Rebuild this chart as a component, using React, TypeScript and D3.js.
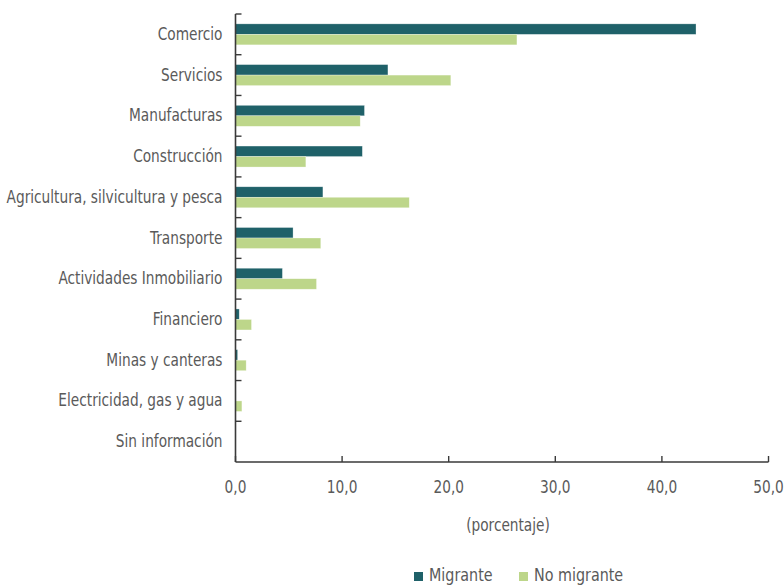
import React from "react";
import * as d3 from "d3";

const categories = [
  "Comercio",
  "Servicios",
  "Manufacturas",
  "Construcción",
  "Agricultura, silvicultura y pesca",
  "Transporte",
  "Actividades Inmobiliario",
  "Financiero",
  "Minas y canteras",
  "Electricidad, gas y agua",
  "Sin información",
];
const migrante = [43.2, 14.3, 12.1, 11.9, 8.2, 5.4, 4.4, 0.35, 0.2, 0.05, 0];
const noMigrante = [26.4, 20.2, 11.7, 6.6, 16.3, 8.0, 7.6, 1.5, 1.0, 0.6, 0];
const seriesNames = ["Migrante", "No migrante"];
const seriesColors = ["#1f6169", "#bdd68a"];
const xTicks = [0, 10, 20, 30, 40, 50];
const axisTitle = "(porcentaje)";

const W = 784;
const H = 587;
const FONT = "'DejaVu Sans Condensed', 'DejaVu Sans', sans-serif";
const TEXT = "#5a5a5a";
const AXIS = "#3a3a3a";
const SX = 0.87; // horizontal squeeze for a narrow typeface look

type LabelProps = {
  x: number;
  y: number;
  anchor: "start" | "middle" | "end";
  size?: number;
  sx?: number;
  children: React.ReactNode;
};

function Label({ x, y, anchor, size = 17.5, sx = SX, children }: LabelProps) {
  return (
    <text
      transform={`translate(${x},${y}) scale(${sx},1)`}
      textAnchor={anchor}
      fontSize={size}
      fill={TEXT}
    >
      {children}
    </text>
  );
}

export default function App() {
  const left = 235.5;
  const right = 768.5;
  const top = 14;
  const bottom = 462;

  const x = d3.scaleLinear().domain([0, 50]).range([left, right]);
  const y = d3.scaleBand<string>().domain(categories).range([top, bottom]).padding(0);
  const step = y.bandwidth();
  const inner = d3
    .scaleBand<string>()
    .domain(seriesNames)
    .range([step / 2 - 10.5, step / 2 + 10.5])
    .padding(0);

  const values = [migrante, noMigrante];
  const fmt = (v: number) => d3.format(".1f")(v).replace(".", ",");

  return (
    <svg
      width={W}
      height={H}
      style={{ position: "absolute", left: 0, top: 0, background: "#fff" }}
      fontFamily={FONT}
    >
      {/* bars */}
      {categories.map((c, i) => (
        <g key={c} transform={`translate(0,${y(c)})`}>
          {seriesNames.map((s, k) => {
            const v = values[k][i];
            if (v <= 0) return null;
            return (
              <rect
                key={s}
                x={x(0)}
                y={inner(s)}
                width={x(v) - x(0)}
                height={inner.bandwidth()}
                fill={seriesColors[k]}
                stroke="#ffffff"
                strokeOpacity={0.5}
                strokeWidth={0.6}
              />
            );
          })}
        </g>
      ))}

      {/* y axis with inward ticks at band edges */}
      <line x1={left} x2={left} y1={top} y2={bottom} stroke={AXIS} strokeWidth={1.6} />
      {categories.map((c) => (
        <line
          key={"t" + c}
          x1={left}
          x2={left + 6}
          y1={y(c)}
          y2={y(c)}
          stroke={AXIS}
          strokeWidth={1.4}
        />
      ))}
      {categories.map((c) => (
        <Label key={"l" + c} x={left - 13} y={(y(c) as number) + step / 2 + 5.5} anchor="end">
          {c}
        </Label>
      ))}

      {/* x axis with inward ticks */}
      <line x1={left} x2={x(50)} y1={bottom} y2={bottom} stroke={AXIS} strokeWidth={1.6} />
      {xTicks.map((t) => (
        <g key={"x" + t}>
          <line x1={x(t)} x2={x(t)} y1={bottom} y2={bottom - 6} stroke={AXIS} strokeWidth={1.4} />
          <Label x={x(t)} y={493} anchor="middle">
            {fmt(t)}
          </Label>
        </g>
      ))}
      <Label x={508} y={531} anchor="middle">
        {axisTitle}
      </Label>

      {/* legend */}
      {seriesNames.map((s, k) => {
        const lx = k === 0 ? 414 : 519;
        return (
          <g key={"lg" + s}>
            <rect x={lx} y={572} width={9} height={9} fill={seriesColors[k]} />
            <Label x={lx + 15} y={581} anchor="start" sx={0.91}>
              {s}
            </Label>
          </g>
        );
      })}
    </svg>
  );
}
